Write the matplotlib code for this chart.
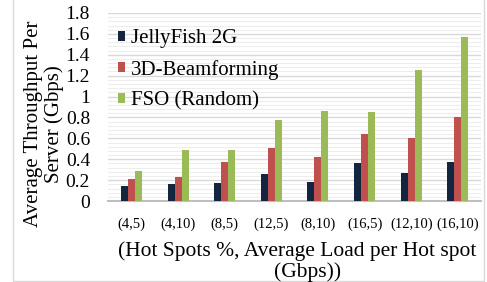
import numpy as np
import matplotlib
matplotlib.use('Agg')
import matplotlib.pyplot as plt
from matplotlib.ticker import MultipleLocator

categories = ['(4,5)', '(4,10)', '(8,5)', '(12,5)', '(8,10)', '(16,5)', '(12,10)', '(16,10)']
jellyfish = [0.14, 0.16, 0.17, 0.26, 0.18, 0.36, 0.27, 0.37]
beamforming = [0.21, 0.23, 0.37, 0.51, 0.42, 0.64, 0.60, 0.80]
fso = [0.29, 0.49, 0.49, 0.78, 0.86, 0.85, 1.25, 1.57]
series_names = ['JellyFish 2G', '3D-Beamforming', 'FSO (Random)']
colors = ['#14263f', '#c0504d', '#9bbb59']
ytick_labels = ['0', '0.2', '0.4', '0.6', '0.8', '1', '1.2', '1.4', '1.6', '1.8']

plt.rcParams['font.family'] = ['Liberation Serif', 'DejaVu Serif']

fig = plt.figure(figsize=(4.87, 2.82), dpi=100)
# outer frame like the original
fig.patches.append(plt.Rectangle((0.026, 0.004), 0.968, 1.0, transform=fig.transFigure,
                                 fill=False, edgecolor='#d9d9d9', linewidth=1))
ax = fig.add_axes([0.222, 0.287, 0.766, 0.667])

x = np.arange(len(categories))
w = 0.15
for i, (vals, name, c) in enumerate(zip([jellyfish, beamforming, fso], series_names, colors)):
    ax.bar(x + (i - 1) * w, vals, w, color=c, label=name, zorder=3)

ax.set_xlim(-0.5, len(categories) - 0.5)
ax.set_ylim(0, 1.8)
ax.yaxis.set_minor_locator(MultipleLocator(0.04))
ax.set_yticks(np.arange(0, 1.81, 0.2))
ax.set_yticklabels(ytick_labels)
ax.grid(axis='y', which='major', color='#d9d9d9', linewidth=1.0, zorder=0)
ax.grid(axis='y', which='minor', color='#ededed', linewidth=0.8, zorder=0)
ax.set_xticks(x)
ax.set_xticklabels(categories, fontsize=10.5)
ax.tick_params(axis='both', length=0, which='both')
ax.tick_params(axis='y', labelsize=14, pad=13)
ax.tick_params(axis='x', pad=12)
for s in ['top', 'right', 'left']:
    ax.spines[s].set_visible(False)
ax.spines['bottom'].set_color('#bfbfbf')
ax.spines['bottom'].set_linewidth(1.5)

# axis titles (placed like the original, wrapped by hand)
fig.text(44 / 487, 1 - 124 / 282, 'Average Throughput Per\nServer (Gbps)', rotation=90,
         ha='center', va='center', multialignment='center', fontsize=15, linespacing=1.1)
fig.text(297 / 487, 1 - 256 / 282, '(Hot Spots %, Average Load per Hot spot',
         ha='center', va='baseline', fontsize=15.5)
fig.text(308 / 487, 1 - 277 / 282, '(Gbps))', ha='center', va='baseline', fontsize=15.5)

ax.legend(loc='upper left', bbox_to_anchor=(-0.008, 0.98), frameon=False, fontsize=15,
          handlelength=0.35, handleheight=0.35, handletextpad=0.3, labelspacing=0.55,
          borderaxespad=0.2)

fig.savefig('out.png', dpi=100)
